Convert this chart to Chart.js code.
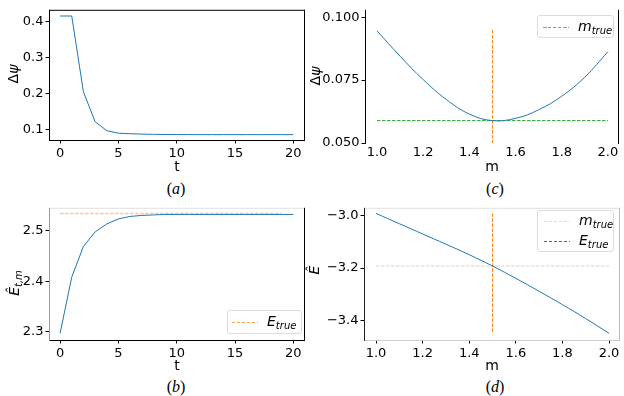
<!DOCTYPE html>
<html>
<head>
<meta charset="utf-8">
<script src="https://cdn.jsdelivr.net/npm/chart.js@4.4.1/dist/chart.umd.min.js"></script>
<style>
body { margin: 0; background: #fff; }
#wrap { position: relative; width: 624px; height: 396px; overflow: hidden; font-family: "DejaVu Sans", sans-serif; color: #000; }
canvas { position: absolute; }
.ylab { position: absolute; transform: translate(-50%, -50%) rotate(-90deg); font-size: 14px; white-space: nowrap; }
.ylab sub, .legend sub { font-size: 10px; vertical-align: -3px; font-style: italic; }
.cap { position: absolute; transform: translate(-50%, -50%); font-family: "Liberation Serif", serif; font-size: 16px; }
.legend { position: absolute; box-sizing: border-box; border: 1px solid #dcdcdc; border-radius: 3px; background: rgba(255,255,255,0.85); font-size: 14px; z-index: 2; }
.row { position: absolute; left: 0; height: 20px; display: flex; align-items: center; white-space: nowrap; }
.sample { display: inline-block; width: 26px; height: 1px; margin: 0 9px 0 5px; }
</style>
</head>
<body>
<div id="wrap">
	<canvas id="chartA" width="312" height="175" style="left:0;top:0"></canvas>
	<canvas id="chartC" width="312" height="175" style="left:312px;top:0"></canvas>
	<canvas id="chartB" width="312" height="175" style="left:0;top:198px"></canvas>
	<canvas id="chartD" width="312" height="175" style="left:312px;top:198px"></canvas>

	<div class="ylab" style="left:13px;top:74px">Δ<i>ψ</i></div>
	<div class="ylab" style="left:315px;top:76px">Δ<i>ψ</i></div>
	<div class="ylab" style="left:15px;top:283px"><i>E&#770;</i><sub>t,m</sub></div>
	<div class="ylab" style="left:314px;top:270px"><i>E&#770;</i></div>

	<div class="cap" style="left:176px;top:189px">(<i>a</i>)</div>
	<div class="cap" style="left:495px;top:189px">(<i>c</i>)</div>
	<div class="cap" style="left:176px;top:387px">(<i>b</i>)</div>
	<div class="cap" style="left:495px;top:387px">(<i>d</i>)</div>

	<div class="legend" style="left:537px;top:15px;width:77px;height:23px">
		<div class="row" style="top:1px">
			<span class="sample" style="background:repeating-linear-gradient(90deg,#ff7f0e 0 3.5px,transparent 3.5px 5px)"></span>
			<span><i>m</i><sub>true</sub></span>
		</div>
	</div>
	<div class="legend" style="left:227px;top:310px;width:75px;height:24px">
		<div class="row" style="top:1px">
			<span class="sample" style="margin-left:4px;background:repeating-linear-gradient(90deg,rgba(255,127,14,0.75) 0 3.5px,transparent 3.5px 5px)"></span>
			<span><i>E</i><sub>true</sub></span>
		</div>
	</div>
	<div class="legend" style="left:537px;top:210px;width:77px;height:42px">
		<div class="row" style="top:0px">
			<span class="sample" style="margin-left:6px;background:repeating-linear-gradient(90deg,rgba(255,127,14,0.35) 0 3.5px,transparent 3.5px 5px)"></span>
			<span><i>m</i><sub>true</sub></span>
		</div>
		<div class="row" style="top:20px">
			<span class="sample" style="margin-left:6px;background:repeating-linear-gradient(90deg,#2f8a2f 0 3.5px,transparent 3.5px 5px)"></span>
			<span><i>E</i><sub>true</sub></span>
		</div>
	</div>
</div>

<script>
'use strict'

// (a), (b): per step t
const tSteps = [0, 1, 2, 3, 4, 5, 6, 7, 8, 9, 10, 11, 12, 13, 14, 15, 16, 17, 18, 19, 20]
const psiByStep = [0.416, 0.416, 0.206, 0.123, 0.098, 0.091, 0.0895, 0.0885, 0.0878, 0.0874, 0.0872,
	0.0871, 0.087, 0.087, 0.087, 0.087, 0.087, 0.087, 0.087, 0.087, 0.087]
const energyByStep = [2.296, 2.408, 2.469, 2.498, 2.514, 2.524, 2.529, 2.531, 2.532, 2.533, 2.533,
	2.533, 2.533, 2.533, 2.533, 2.533, 2.533, 2.533, 2.533, 2.533, 2.533]
const eTrueLevel = 2.535
const eTrueSpan = [0, 19]

// (c), (d): per mass m
const massGrid = [1.0, 1.1, 1.2, 1.3, 1.4, 1.5, 1.6, 1.7, 1.8, 1.9, 2.0]
const psiByMass = [0.0946, 0.0845, 0.0752, 0.0673, 0.0615, 0.0589, 0.0598, 0.0632, 0.0686, 0.0762, 0.0863]
const energyByMass = [-2.992, -3.031, -3.070, -3.109, -3.149, -3.192, -3.239, -3.288, -3.339, -3.392, -3.448]
const mTrue = 1.5
const psiFloor = 0.0589
const psiMarkerSpan = [0.0949, 0.05]
const energyAtTrue = -3.192
const energyMarkerSpan = [-2.992, -3.448]

// tick labels
const tTicks = [0, 5, 10, 15, 20]
const psiStepTicks = [0.1, 0.2, 0.3, 0.4]
const energyStepTicks = [2.3, 2.4, 2.5]
const mTicks = [1.0, 1.2, 1.4, 1.6, 1.8, 2.0]
const psiMassTicks = [0.05, 0.075, 0.1]
const energyMassTicks = [-3.4, -3.2, -3.0]

const BLUE = '#1f77b4'
const ORANGE = '#ff7f0e'
const GREEN = '#2ca02c'
const FONT = '"DejaVu Sans", sans-serif'

const pts = (xs, ys) => xs.map((x, i) => ({ x, y: ys[i] }))

const framePlugin = {
	id: 'frame',
	afterDatasetsDraw(chart, args, opts) {
		const { ctx, chartArea: a } = chart
		ctx.save()
		ctx.lineWidth = 1
		const seg = (color, x1, y1, x2, y2) => {
			if (!color) return
			ctx.strokeStyle = color
			ctx.beginPath()
			ctx.moveTo(x1, y1)
			ctx.lineTo(x2, y2)
			ctx.stroke()
		}
		seg(opts.top, a.left, a.top + 0.5, a.right, a.top + 0.5)
		seg(opts.bottom, a.left, a.bottom + 0.5, a.right, a.bottom + 0.5)
		seg(opts.left, a.left + 0.5, a.top, a.left + 0.5, a.bottom + 1)
		seg(opts.right, a.right - 0.5, a.top, a.right - 0.5, a.bottom + 1)
		ctx.restore()
	},
}

function axis(o) {
	return {
		type: 'linear',
		min: o.min,
		max: o.max,
		afterBuildTicks: s => { s.ticks = o.ticks.map(v => ({ value: v })) },
		afterFit: s => {
			if (s.isHorizontal()) s.height = o.size
			else s.width = o.size
		},
		grid: {
			drawOnChartArea: false,
			drawTicks: o.tickLen > 0,
			tickLength: o.tickLen,
			color: '#000',
			lineWidth: 1,
		},
		border: { display: false },
		ticks: {
			color: '#000',
			padding: 2,
			autoSkip: false,
			maxRotation: 0,
			font: { family: FONT, size: 13 },
			callback: o.fmt,
		},
		title: o.title
			? { display: true, text: o.title, color: '#000', font: { family: FONT, size: 14 }, padding: { top: 0, bottom: o.titlePad } }
			: { display: false },
	}
}

const line = (data, color, extra) => Object.assign({
	data,
	borderColor: color,
	borderWidth: 1,
	pointRadius: 0,
	fill: false,
	tension: 0,
}, extra)

const dashed = { borderDash: [3.5, 1.5] }

function makeChart(id, datasets, xAxis, yAxis, padding, frame) {
	return new Chart(document.getElementById(id), {
		type: 'line',
		data: { datasets },
		options: {
			responsive: false,
			animation: false,
			events: [],
			layout: { padding },
			scales: { x: axis(xAxis), y: axis(yAxis) },
			plugins: { legend: { display: false }, tooltip: { enabled: false }, frame },
		},
		plugins: [framePlugin],
	})
}

const fmt1 = v => v.toFixed(1)
const fmt3 = v => v.toFixed(3)
const fmtMinus = v => v.toFixed(1).replace('-', '\u2212')

// (a)
makeChart('chartA',
	[line(pts(tSteps, psiByStep), BLUE)],
	{ min: -0.95, max: 21.0, ticks: tTicks, size: 35, tickLen: 3.5, fmt: v => String(v), title: 't', titlePad: -1 },
	{ min: 0.0721, max: 0.4332, ticks: psiStepTicks, size: 49, tickLen: 3.5, fmt: fmt1 },
	{ left: 0, top: 4, right: 7, bottom: 0 },
	{ top: '#000', right: '#000', bottom: '#000', left: '#000' })

// (b)
makeChart('chartB',
	[
		line(pts(tSteps, energyByStep), BLUE),
		line(pts(eTrueSpan, [eTrueLevel, eTrueLevel]), 'rgba(255,127,14,0.45)', Object.assign({ borderWidth: 1.5 }, dashed)),
	],
	{ min: -0.95, max: 21.0, ticks: tTicks, size: 33, tickLen: 3.5, fmt: v => String(v), title: 't', titlePad: -1.5 },
	{ min: 2.2827, max: 2.5462, ticks: energyStepTicks, size: 49, tickLen: 3.5, fmt: fmt1 },
	{ left: 0, top: 5, right: 7, bottom: 0 },
	{ top: '#e0e0e0', right: '#000', bottom: '#000', left: '#999' })

// (c)
makeChart('chartC',
	[
		line(pts(massGrid, psiByMass), BLUE, { tension: 0.4 }),
		line(pts([massGrid[0], massGrid[massGrid.length - 1]], [psiFloor, psiFloor]), GREEN, dashed),
		line(pts([mTrue, mTrue], psiMarkerSpan), ORANGE, dashed),
	],
	{ min: 0.948, max: 2.048, ticks: mTicks, size: 32, tickLen: 0, fmt: fmt1, title: 'm', titlePad: -1 },
	{ min: 0.05, max: 0.10296, ticks: psiMassTicks, size: 53, tickLen: 3.5, fmt: fmt3 },
	{ left: 0, top: 0, right: 5, bottom: 0 },
	{ right: '#000', left: '#000' })

// (d)
makeChart('chartD',
	[
		line(pts(massGrid, energyByMass), BLUE, { tension: 0.4 }),
		line(pts([massGrid[0], massGrid[massGrid.length - 1]], [energyAtTrue, energyAtTrue]), 'rgba(200,180,165,0.6)', dashed),
		line(pts([mTrue, mTrue], energyMarkerSpan), ORANGE, dashed),
	],
	{ min: 0.9485, max: 2.047, ticks: mTicks, size: 33, tickLen: 3.5, fmt: fmt1, title: 'm', titlePad: -1.5 },
	{ min: -3.4734, max: -2.9706, ticks: energyMassTicks, size: 52, tickLen: 3.5, fmt: fmtMinus },
	{ left: 0, top: 5, right: 4, bottom: 0 },
	{ top: '#e0e0e0', right: '#bbb', bottom: '#ccc', left: '#222' })
</script>
</body>
</html>
